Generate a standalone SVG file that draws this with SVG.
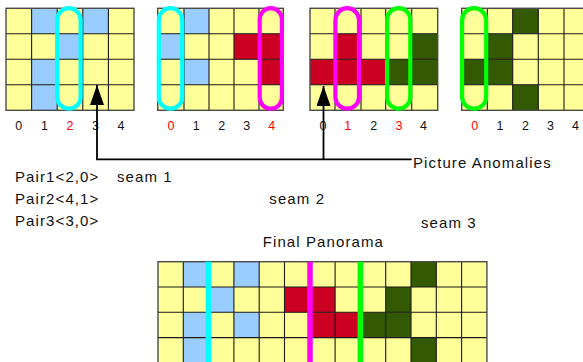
<svg xmlns="http://www.w3.org/2000/svg" width="583" height="362" viewBox="0 0 583 362">
  <style>
    .bg { fill: #ffff99; }
    .b { fill: #99ccff; }
    .r { fill: #cc0022; }
    .g { fill: #335a00; }
    .lines { fill: none; stroke: #1a1a1a; stroke-width: 1.1; }
    .frame { fill: none; stroke: #4a4a4a; stroke-width: 1.4; }
    .oval { fill: none; stroke-width: 4.2; }
    .cy { stroke: #00ffff; }
    .mg { stroke: #ff00ff; }
    .gr { stroke: #00ff00; }
    .idx { font-family: "Liberation Sans", Arial, sans-serif; font-size: 12.5px; fill: #111; text-anchor: middle; }
    .sel { fill: #ff0000; }
    .lbl { font-family: "Liberation Sans", Arial, sans-serif; font-size: 15px; letter-spacing: 1.1px; fill: #111; }
    .conn { fill: none; stroke: #000; stroke-width: 1.8; }
    .seam { stroke-width: 5.5; }
  </style>
  <defs>
    <marker id="head" viewBox="0 0 20 14" refX="20" refY="7" markerWidth="20" markerHeight="14" markerUnits="userSpaceOnUse" orient="auto">
      <path d="M0,0 L20,7 L0,14 Z" fill="#000"/>
    </marker>
  </defs>

  <!-- picture 1 -->
  <g id="picture1">
    <rect class="bg" x="6" y="8.3" width="128" height="102"/>
    <rect class="b" x="31.6" y="8.3" width="25.6" height="25.5"/>
    <rect class="b" x="82.8" y="8.3" width="25.6" height="25.5"/>
    <rect class="b" x="57.2" y="33.8" width="25.6" height="25.5"/>
    <rect class="b" x="31.6" y="59.3" width="25.6" height="25.5"/>
    <rect class="b" x="31.6" y="84.8" width="25.6" height="25.5"/>
    <path class="lines" d="M31.6,8.3V110.3M57.2,8.3V110.3M82.8,8.3V110.3M108.4,8.3V110.3M6,33.8H134M6,59.3H134M6,84.8H134"/>
    <rect class="frame" x="6" y="8.3" width="128" height="102"/>
    <rect class="oval cy" x="57.2" y="8.2" width="23.4" height="100.5" rx="11.7"/>
    <text class="idx" x="18.8" y="129.5">0</text>
    <text class="idx" x="44.4" y="129.5">1</text>
    <text class="idx sel" x="70" y="129.5">2</text>
    <text class="idx" x="95.6" y="129.5">3</text>
    <text class="idx" x="121" y="129.5">4</text>
  </g>

  <!-- picture 2 -->
  <g id="picture2">
    <rect class="bg" x="157.7" y="8.3" width="125.6" height="102"/>
    <rect class="b" x="184" y="8.3" width="25" height="25.5"/>
    <rect class="b" x="157.7" y="33.8" width="26.3" height="25.5"/>
    <rect class="r" x="234" y="33.8" width="49.3" height="25.5"/>
    <rect class="b" x="184" y="59.3" width="25" height="25.5"/>
    <rect class="r" x="259" y="59.3" width="24.3" height="25.5"/>
    <path class="lines" d="M184,8.3V110.3M209,8.3V110.3M234,8.3V110.3M259,8.3V110.3M157.7,33.8H283.3M157.7,59.3H283.3M157.7,84.8H283.3"/>
    <rect class="frame" x="157.7" y="8.3" width="125.6" height="102"/>
    <rect class="oval cy" x="158.8" y="8.2" width="23.4" height="100.5" rx="11.7"/>
    <rect class="oval mg" x="259.7" y="8.2" width="22.2" height="100.5" rx="11.1"/>
    <text class="idx sel" x="171" y="129.5">0</text>
    <text class="idx" x="196.3" y="129.5">1</text>
    <text class="idx" x="221.8" y="129.5">2</text>
    <text class="idx" x="246.8" y="129.5">3</text>
    <text class="idx sel" x="271.8" y="129.5">4</text>
  </g>

  <!-- picture 3 -->
  <g id="picture3">
    <rect class="bg" x="310" y="8.3" width="127.7" height="102"/>
    <rect class="r" x="335" y="33.8" width="26" height="25.5"/>
    <rect class="g" x="411.7" y="33.8" width="26" height="25.5"/>
    <rect class="r" x="310" y="59.3" width="75.7" height="25.5"/>
    <rect class="g" x="385.7" y="59.3" width="52" height="25.5"/>
    <path class="lines" d="M335,8.3V110.3M361,8.3V110.3M385.7,8.3V110.3M411.7,8.3V110.3M310,33.8H437.7M310,59.3H437.7M310,84.8H437.7"/>
    <rect class="frame" x="310" y="8.3" width="127.7" height="102"/>
    <rect class="oval mg" x="335.4" y="8.2" width="23.6" height="100.5" rx="11.8"/>
    <rect class="oval gr" x="387.1" y="8.2" width="23.2" height="100.5" rx="11.6"/>
    <text class="idx" x="323" y="129.5">0</text>
    <text class="idx sel" x="347.8" y="129.5">1</text>
    <text class="idx" x="373.8" y="129.5">2</text>
    <text class="idx sel" x="399" y="129.5">3</text>
    <text class="idx" x="423.6" y="129.5">4</text>
  </g>

  <!-- picture 4 -->
  <g id="picture4">
    <rect class="bg" x="461.7" y="8.3" width="127.9" height="102"/>
    <rect class="g" x="512.7" y="8.3" width="25.6" height="25.5"/>
    <rect class="g" x="487.3" y="33.8" width="25.4" height="25.5"/>
    <rect class="g" x="461.7" y="59.3" width="51" height="25.5"/>
    <rect class="g" x="512.7" y="84.8" width="25.6" height="25.5"/>
    <path class="lines" d="M487.3,8.3V110.3M512.7,8.3V110.3M538.3,8.3V110.3M564,8.3V110.3M461.7,33.8H589.6M461.7,59.3H589.6M461.7,84.8H589.6"/>
    <rect class="frame" x="461.7" y="8.3" width="127.9" height="102"/>
    <rect class="oval gr" x="462.1" y="8.2" width="24.1" height="100.5" rx="12"/>
    <text class="idx sel" x="474.8" y="129.5">0</text>
    <text class="idx" x="500" y="129.5">1</text>
    <text class="idx" x="525.5" y="129.5">2</text>
    <text class="idx" x="550.5" y="129.5">3</text>
    <text class="idx" x="575.5" y="129.5">4</text>
  </g>

  <!-- anomaly pointers -->
  <g id="connectors">
    <path class="conn" d="M411.7,159.3H97V85" marker-end="url(#head)"/>
    <path class="conn" d="M323.5,159.3V86" marker-end="url(#head)"/>
  </g>

  <g id="anomalies-label">
    <text class="lbl" x="413" y="168.3">Picture Anomalies</text>
  </g>

  <!-- seam pairs -->
  <g id="pairs">
    <text class="lbl" x="15" y="182.3">Pair1&lt;2,0&gt;</text>
    <text class="lbl" x="117" y="182.3">seam 1</text>
    <text class="lbl" x="15" y="203.6">Pair2&lt;4,1&gt;</text>
    <text class="lbl" x="269.3" y="204.3">seam 2</text>
    <text class="lbl" x="15" y="225.5">Pair3&lt;3,0&gt;</text>
    <text class="lbl" x="421" y="227.8">seam 3</text>
    <text class="lbl" x="262.7" y="246.7">Final Panorama</text>
  </g>

  <!-- stitched result -->
  <g id="panorama">
    <rect class="bg" x="158" y="261.7" width="328.9" height="101.2"/>
    <rect class="b" x="183.3" y="261.7" width="25.3" height="25.3"/>
    <rect class="b" x="233.9" y="261.7" width="25.3" height="25.3"/>
    <rect class="g" x="411" y="261.7" width="25.3" height="25.3"/>
    <rect class="b" x="208.6" y="287" width="25.3" height="25.3"/>
    <rect class="r" x="284.5" y="287" width="50.6" height="25.3"/>
    <rect class="g" x="385.7" y="287" width="25.3" height="25.3"/>
    <rect class="b" x="183.3" y="312.3" width="25.3" height="25.3"/>
    <rect class="b" x="233.9" y="312.3" width="25.3" height="25.3"/>
    <rect class="r" x="309.8" y="312.3" width="50.6" height="25.3"/>
    <rect class="g" x="360.4" y="312.3" width="50.6" height="25.3"/>
    <rect class="b" x="183.3" y="337.6" width="25.3" height="25.3"/>
    <rect class="g" x="411" y="337.6" width="25.3" height="25.3"/>
    <path class="lines" d="M183.3,261.7V362.9M208.6,261.7V362.9M233.9,261.7V362.9M259.2,261.7V362.9M284.5,261.7V362.9M309.8,261.7V362.9M335.1,261.7V362.9M360.4,261.7V362.9M385.7,261.7V362.9M411,261.7V362.9M436.3,261.7V362.9M461.6,261.7V362.9M158,287H486.9M158,312.3H486.9M158,337.6H486.9"/>
    <rect class="frame" x="158" y="261.7" width="328.9" height="101.2"/>
    <path class="cy seam" d="M208.4,261.7V362"/>
    <path class="mg seam" d="M310,261.7V362"/>
    <path class="gr seam" d="M360.3,261.7V362"/>
  </g>
</svg>
